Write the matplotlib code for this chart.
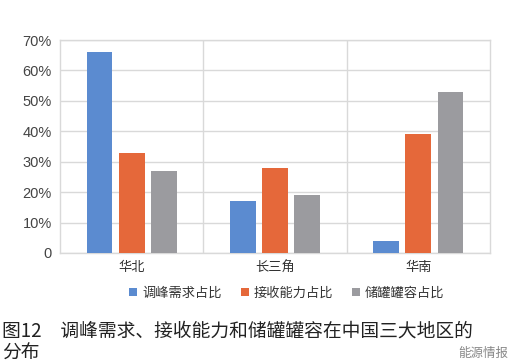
import matplotlib
matplotlib.use("Agg")
import matplotlib.pyplot as plt
import numpy as np

plt.rcParams['font.family'] = ['Noto Sans CJK SC', 'DejaVu Sans']

categories = ["华北", "长三角", "华南"]
series_names = ["调峰需求占比", "接收能力占比", "储罐罐容占比"]
peak_demand = [66, 17, 4]
receiving = [33, 28, 39]
storage = [27, 19, 53]
yticks = [0, 10, 20, 30, 40, 50, 60, 70]
ytick_labels = ["0", "10%", "20%", "30%", "40%", "50%", "60%", "70%"]
colors = ["#5B8BD0", "#E5683A", "#9B9B9F"]

fig = plt.figure(figsize=(5.16, 3.63), dpi=100)
ax = fig.add_axes([60/516, 1-253/363, 430/516, 213/363])

x = np.arange(len(categories))
w = 0.18
step = 0.225
for i, (vals, name) in enumerate(zip([peak_demand, receiving, storage], series_names)):
    ax.bar(x + (i-1)*step, vals, width=w, color=colors[i], label=name, zorder=3)

ax.set_xlim(-0.5, 2.5)
ax.set_ylim(0, 70)
ax.set_yticks(yticks)
ax.set_yticklabels(ytick_labels, fontsize=10.5, color="#444444", family=["Liberation Sans", "DejaVu Sans"])
ax.set_xticks(x)
ax.set_xticklabels(categories, fontsize=9.5, color="#333333")
ax.tick_params(length=0, pad=6)
ax.yaxis.grid(True, color="#D9D9D9", linewidth=1, zorder=0)
for sep in [0.5, 1.5]:
    ax.axvline(sep, color="#D9D9D9", linewidth=1, zorder=0)
for s in ax.spines.values():
    s.set_color("#D9D9D9")
    s.set_linewidth(1)

leg = fig.legend(loc="center", bbox_to_anchor=(287/516, 1-293/363), ncol=3, frameon=False,
                 fontsize=9.5, handlelength=0.6, handleheight=0.6, handletextpad=0.4,
                 columnspacing=1.4)
for t in leg.get_texts():
    t.set_color("#333333")

fig.text(2/516, 1-331/363, "图12　调峰需求、接收能力和储罐罐容在中国三大地区的",
         fontsize=13.5, color="#222222", va="center", ha="left")
fig.text(2/516, 1-353/363, "分布", fontsize=13.5, color="#222222", va="center", ha="left")
fig.text(508/516, 1-353/363, "能源情报", fontsize=9, color="#888888", va="center", ha="right")

fig.savefig("out.png", dpi=100)
